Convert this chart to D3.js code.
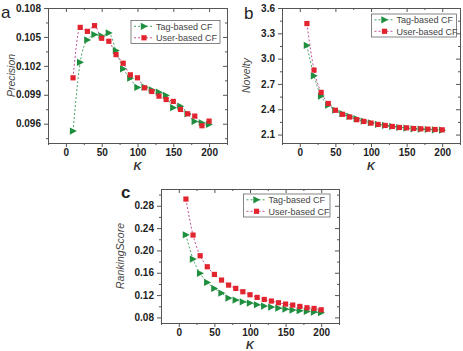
<!DOCTYPE html>
<html>
<head>
<meta charset="utf-8">
<script src="https://cdn.jsdelivr.net/npm/d3@7"></script>
<style>
  body { margin: 0; background: #fff; }
  svg { display: block; font-family: "Liberation Sans", Arial, sans-serif; }
</style>
</head>
<body>
<svg id="chart" width="463" height="351"></svg>
<script>
// K values shared by all panels
const kValues = [10, 20, 30, 40, 50, 60, 70, 80, 90, 100, 110, 120, 130, 140, 150, 160, 170, 180, 190, 200];

// (a) Precision
const precisionTag = [0.09524, 0.10237, 0.10469, 0.10524, 0.10510, 0.10541, 0.10358, 0.10169, 0.10072, 0.09976,
  0.09979, 0.09952, 0.09927, 0.09893, 0.09766, 0.09782, 0.09703, 0.09624, 0.09610, 0.09593];
const precisionUser = [0.10076, 0.10599, 0.10558, 0.10617, 0.10486, 0.10455, 0.10317, 0.10227, 0.10107, 0.10076,
  0.09972, 0.09934, 0.09886, 0.09851, 0.09831, 0.09748, 0.09703, 0.09679, 0.09579, 0.09627];

// (b) Novelty
const noveltyTag = [3.156, 2.796, 2.556, 2.448, 2.388, 2.348, 2.316, 2.288, 2.260, 2.240,
  2.220, 2.208, 2.196, 2.184, 2.176, 2.168, 2.164, 2.160, 2.156, 2.152];
const noveltyUser = [3.416, 2.864, 2.600, 2.468, 2.388, 2.340, 2.308, 2.276, 2.256, 2.236,
  2.220, 2.208, 2.196, 2.184, 2.180, 2.172, 2.168, 2.164, 2.160, 2.156];

// (c) RankingScore
const rankTag = [0.228, 0.1845, 0.159, 0.1427, 0.132, 0.1236, 0.1146, 0.111, 0.108, 0.1057,
  0.1027, 0.1003, 0.0985, 0.0967, 0.0949, 0.0931, 0.0919, 0.0907, 0.0896, 0.0884];
const rankUser = [0.292, 0.2275, 0.1904, 0.1707, 0.157, 0.1469, 0.1379, 0.132, 0.126, 0.1206,
  0.1158, 0.1122, 0.1093, 0.1063, 0.1039, 0.1021, 0.0997, 0.0973, 0.0961, 0.0937];

// tick labels
const xTicks = [0, 50, 100, 150, 200];
const precisionTicks = [0.096, 0.099, 0.102, 0.105, 0.108];
const noveltyTicks = [2.1, 2.4, 2.7, 3.0, 3.3, 3.6];
const rankTicks = [0.08, 0.12, 0.16, 0.20, 0.24, 0.28];

const seriesNames = ["Tag-based CF", "User-based CF"];

const GREEN = "#1f8f3f", GREEN_LINE = "#2f9a50";
const RED = "#e2242f", RED_LINE = "#b8408a";
const AXIS = "#555";

const svg = d3.select("#chart");

function drawPanel(opt) {
  const { box, yDomain, yTicks, yStep, yFormat, tag, user, label, yTitle, legend, labelPos, labelBold } = opt;

  const x = d3.scaleLinear().domain([-25, 225]).range([box.l, box.r]);
  const y = d3.scaleLinear().domain(yDomain).range([box.b, box.t]);

  const g = svg.append("g");

  // minor ticks
  const xMinor = d3.range(-25, 226, 25).filter(v => !xTicks.includes(v));
  const yMinor = yTicks.map(v => v - yStep / 2).concat([yTicks[yTicks.length - 1] + yStep / 2])
    .filter(v => v >= yDomain[0] - 1e-9 && v <= yDomain[1] + 1e-9);

  // bottom axis
  g.append("g")
    .attr("transform", `translate(0,${box.b})`)
    .call(d3.axisBottom(x).tickValues(xTicks).tickSize(4).tickSizeOuter(0).tickPadding(2))
    .call(a => a.selectAll("text").attr("font-size", 10).attr("font-weight", "bold").attr("fill", "#222"));
  g.append("g")
    .attr("transform", `translate(0,${box.b})`)
    .call(d3.axisBottom(x).tickValues(xMinor).tickSize(2).tickSizeOuter(0).tickFormat(""));

  // left axis
  g.append("g")
    .attr("transform", `translate(${box.l},0)`)
    .call(d3.axisLeft(y).tickValues(yTicks).tickSize(4).tickSizeOuter(0).tickPadding(3).tickFormat(yFormat))
    .call(a => a.selectAll("text").attr("font-size", 10).attr("font-weight", "bold").attr("fill", "#222"));
  g.append("g")
    .attr("transform", `translate(${box.l},0)`)
    .call(d3.axisLeft(y).tickValues(yMinor).tickSize(2).tickSizeOuter(0).tickFormat(""));

  // top & right mirrored (ticks inside)
  g.append("g")
    .attr("transform", `translate(0,${box.t})`)
    .call(d3.axisTop(x).tickValues(xTicks).tickSize(-4).tickSizeOuter(0).tickFormat(""));
  g.append("g")
    .attr("transform", `translate(0,${box.t})`)
    .call(d3.axisTop(x).tickValues(xMinor).tickSize(-2).tickSizeOuter(0).tickFormat(""));
  g.append("g")
    .attr("transform", `translate(${box.r},0)`)
    .call(d3.axisRight(y).tickValues(yTicks).tickSize(-4).tickSizeOuter(0).tickFormat(""));
  g.append("g")
    .attr("transform", `translate(${box.r},0)`)
    .call(d3.axisRight(y).tickValues(yMinor).tickSize(-2).tickSizeOuter(0).tickFormat(""));

  g.selectAll(".domain, .tick line").attr("stroke", AXIS).attr("stroke-width", 1);

  // axis titles
  g.append("text")
    .attr("x", (box.l + box.r) / 2).attr("y", box.b + opt.kOffset)
    .attr("text-anchor", "middle")
    .attr("font-size", 11).attr("font-style", "italic").attr("font-weight", "bold").attr("fill", "#333")
    .text("K");
  g.append("text")
    .attr("transform", `translate(${opt.yTitleX},${(box.t + box.b) / 2}) rotate(-90)`)
    .attr("text-anchor", "middle")
    .attr("font-size", 10.5).attr("font-style", "italic").attr("fill", "#444")
    .text(yTitle);

  // panel label
  g.append("text")
    .attr("x", labelPos[0]).attr("y", labelPos[1])
    .attr("font-size", 17).attr("font-weight", labelBold ? "bold" : "normal").attr("fill", "#222")
    .text(label);

  const line = d3.line().x((d, i) => x(kValues[i])).y(d => y(d)).curve(d3.curveMonotoneX);

  const tri = "M-3.2,-3.6L3.8,0L-3.2,3.6Z";
  const sq = "M-2.6,-2.6H2.6V2.6H-2.6Z";

  const series = [
    { vals: tag, color: GREEN, lineColor: GREEN_LINE, marker: tri },
    { vals: user, color: RED, lineColor: RED_LINE, marker: sq }
  ];

  series.forEach(s => {
    g.append("path")
      .datum(s.vals)
      .attr("d", line)
      .attr("fill", "none")
      .attr("stroke", s.lineColor)
      .attr("stroke-width", 0.9)
      .attr("stroke-dasharray", "2,2");
  });
  series.forEach(s => {
    g.append("g").selectAll("path")
      .data(s.vals)
      .join("path")
      .attr("transform", (d, i) => `translate(${x(kValues[i])},${y(d)})`)
      .attr("d", s.marker)
      .attr("fill", s.color);
  });

  // legend
  const lg = g.append("g");
  lg.append("rect")
    .attr("x", legend.l).attr("y", legend.t)
    .attr("width", legend.w).attr("height", 23)
    .attr("fill", "#fff").attr("stroke", "#666").attr("stroke-width", 0.8);
  series.forEach((s, i) => {
    const cy = legend.t + 5.8 + i * 11.5;
    lg.append("line")
      .attr("x1", legend.l + 3).attr("x2", legend.l + 23)
      .attr("y1", cy).attr("y2", cy)
      .attr("stroke", s.lineColor).attr("stroke-width", 0.9).attr("stroke-dasharray", "2,2");
    lg.append("path")
      .attr("transform", `translate(${legend.l + 13},${cy})`)
      .attr("d", s.marker)
      .attr("fill", s.color);
    lg.append("text")
      .attr("x", legend.l + 25).attr("y", cy + 3.2)
      .attr("font-size", 9).attr("fill", "#444")
      .text(seriesNames[i]);
  });
}

drawPanel({
  box: { l: 48, t: 8, r: 227, b: 143 },
  yDomain: [0.094, 0.108], yTicks: precisionTicks, yStep: 0.003, yFormat: d3.format(".3f"),
  tag: precisionTag, user: precisionUser,
  label: "a", labelPos: [1, 18], labelBold: false,
  yTitle: "Precision", yTitleX: 15, kOffset: 27,
  legend: { l: 131, t: 20.5, w: 89 }
});

drawPanel({
  box: { l: 282, t: 8, r: 460, b: 143 },
  yDomain: [2.0, 3.6], yTicks: noveltyTicks, yStep: 0.3, yFormat: d3.format(".1f"),
  tag: noveltyTag, user: noveltyUser,
  label: "b", labelPos: [244, 19], labelBold: false,
  yTitle: "Novelty", yTitleX: 250, kOffset: 27,
  legend: { l: 371.5, t: 14, w: 85 }
});

drawPanel({
  box: { l: 161, t: 189, r: 339, b: 323 },
  yDomain: [0.07, 0.31], yTicks: rankTicks, yStep: 0.04, yFormat: d3.format(".2f"),
  tag: rankTag, user: rankUser,
  label: "c", labelPos: [121, 198], labelBold: true,
  yTitle: "RankingScore", yTitleX: 124, kOffset: 26,
  legend: { l: 243.5, t: 194, w: 86.5 }
});
</script>
</body>
</html>
